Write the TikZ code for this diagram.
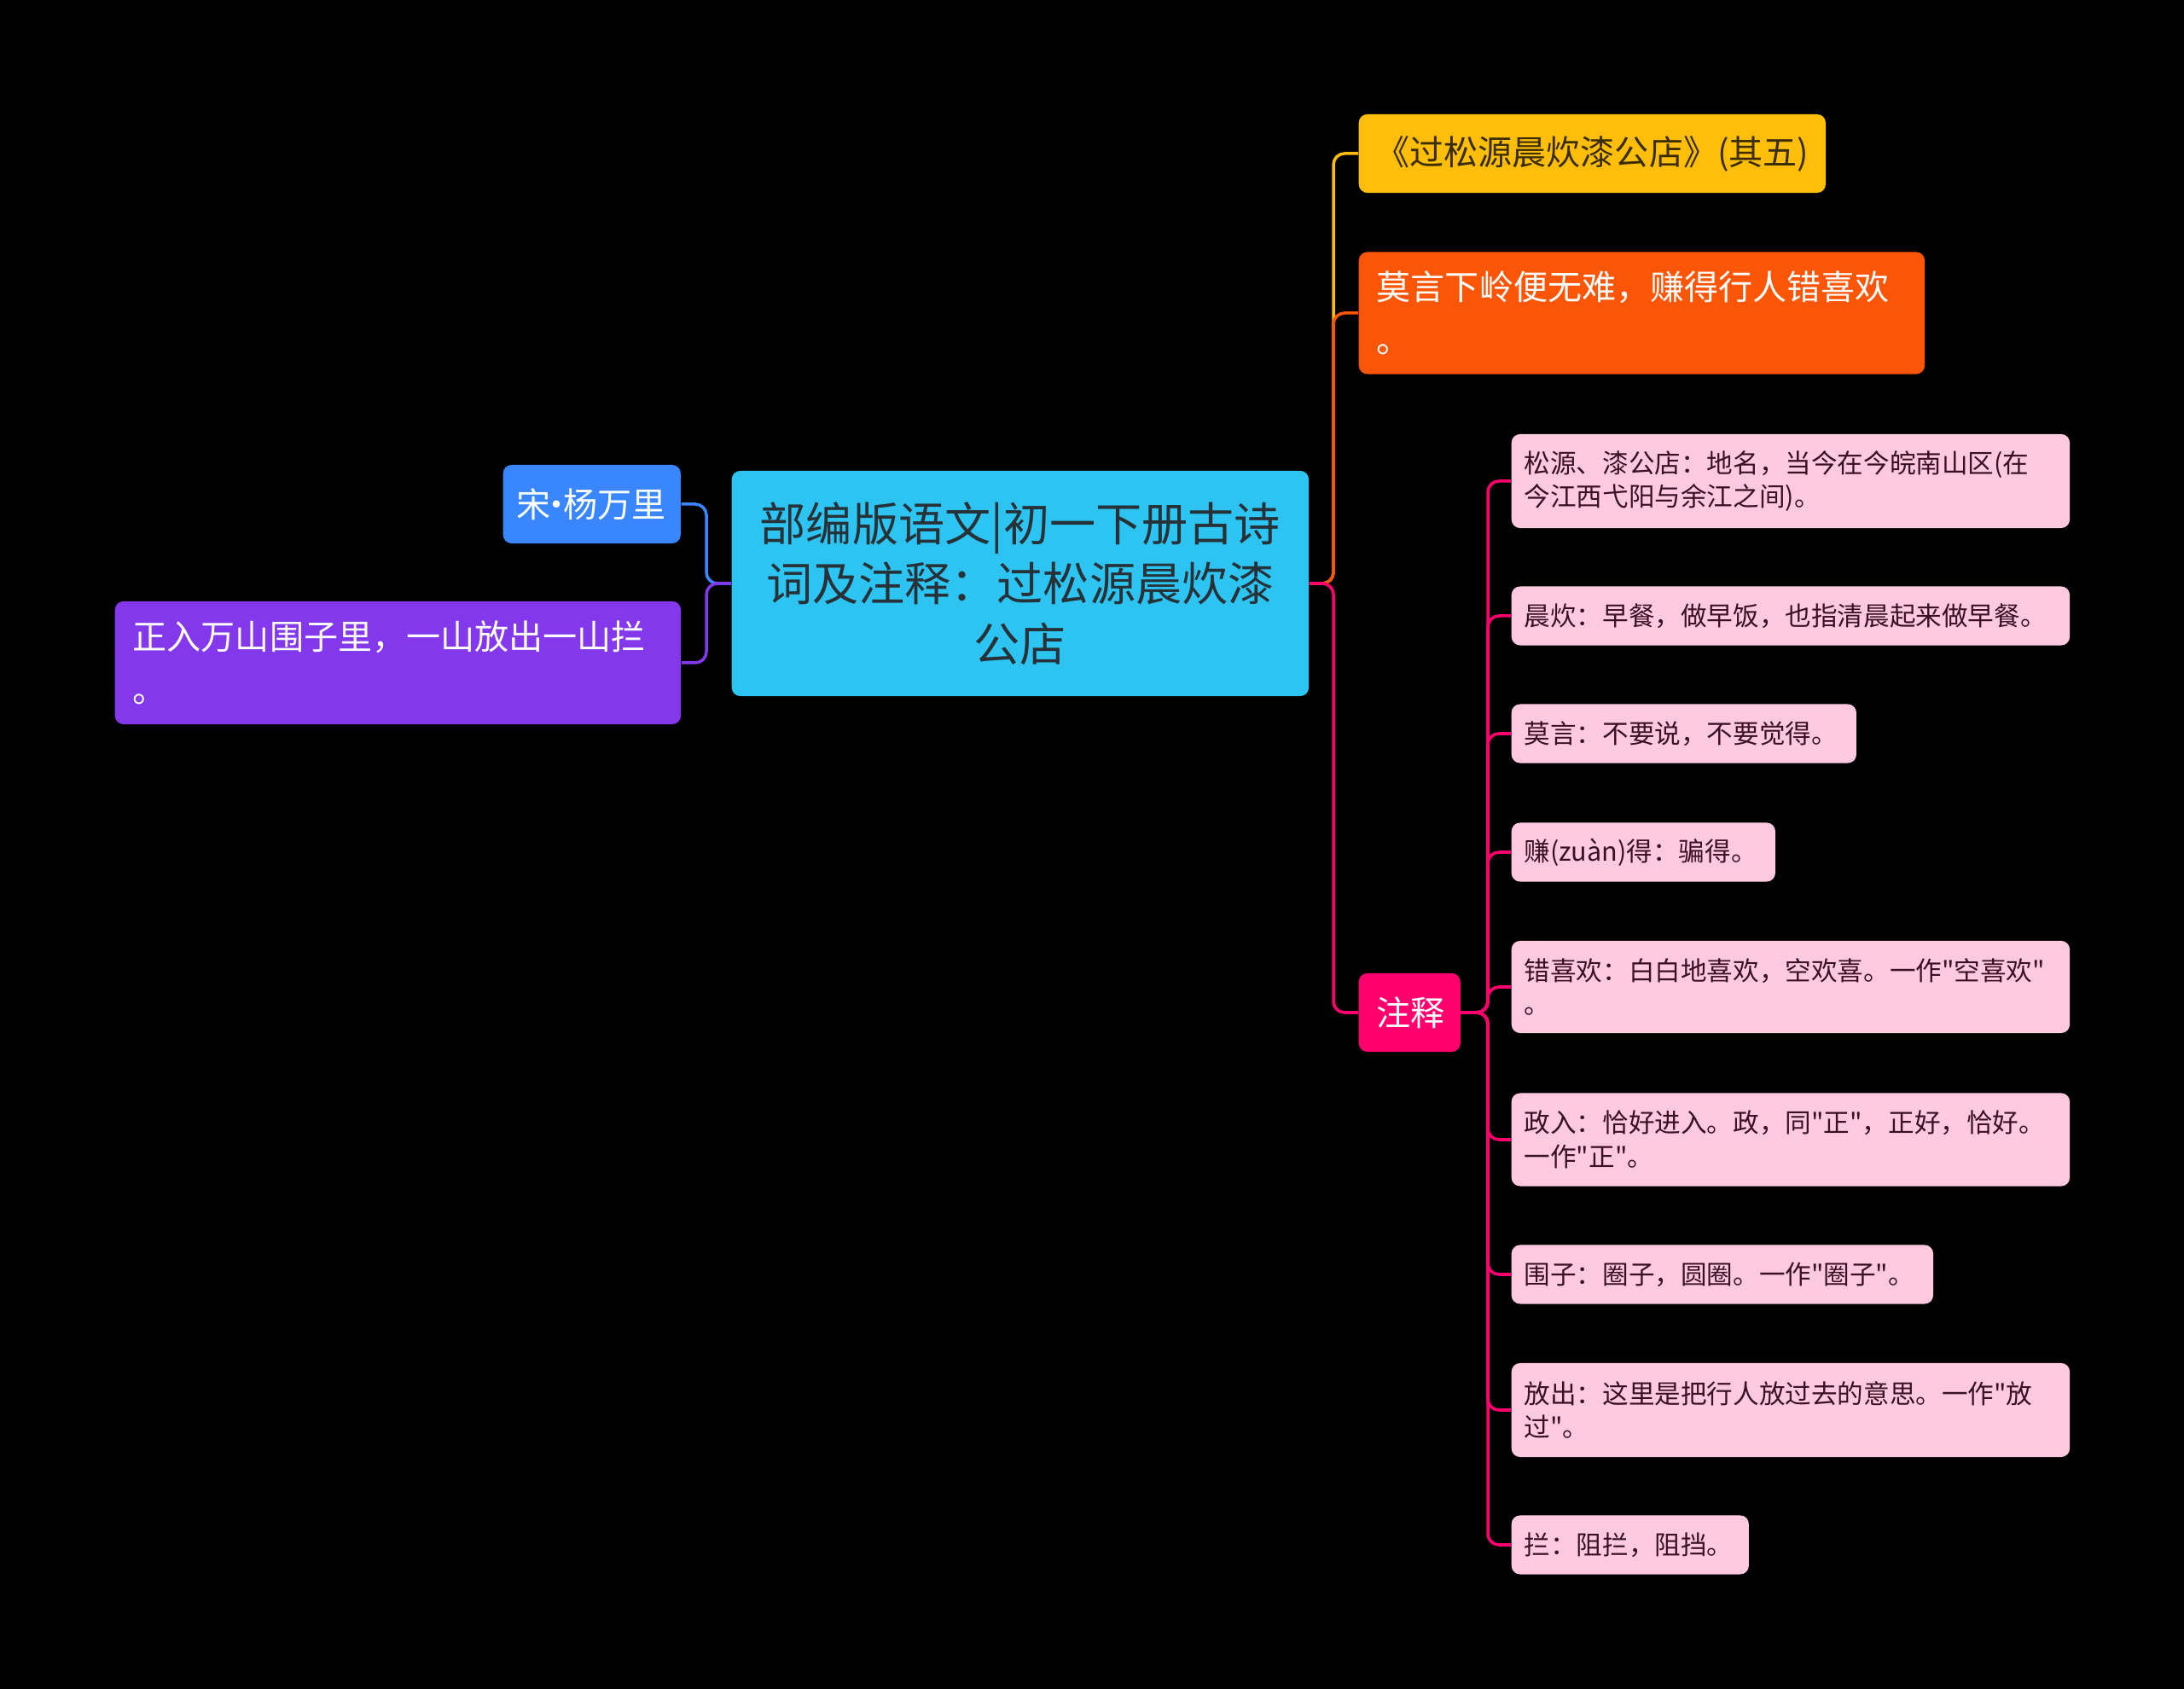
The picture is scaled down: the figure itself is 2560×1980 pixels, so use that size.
\documentclass[tikz,border=0pt]{standalone}
\usepackage{fontspec}
\newfontfamily\cjk{Noto Sans CJK SC}
\definecolor{rootcyan}{HTML}{2EC4F2}
\definecolor{roottext}{HTML}{263238}
\definecolor{authorblue}{HTML}{3A86FF}
\definecolor{versepurple}{HTML}{8338EC}
\definecolor{titleyellow}{HTML}{FFBE0B}
\definecolor{titletext}{HTML}{3A2E00}
\definecolor{verseorange}{HTML}{FB5607}
\definecolor{notemagenta}{HTML}{FF006E}
\definecolor{notepink}{HTML}{FFCADF}
\definecolor{notetext}{HTML}{3A1025}
\begin{document}
\begin{tikzpicture}[x=0.01cm, y=-0.01cm,
    box/.style={rounded corners=0.1cm, anchor=west, inner ysep=0pt},
    lvlone/.style={box, inner xsep=0.21cm, align=left, minimum height=0.92cm,
        font=\cjk\fontsize{11.4}{17.6}\selectfont},
    note/.style={box, fill=notepink, text=notetext, inner xsep=0.15cm, align=left,
        font=\cjk\fontsize{8.7}{11.3}\selectfont},
    link/.style={line width=1pt, rounded corners=0.13cm}]
    \fill[black] (0,0) rectangle (2560,1980);
    \useasboundingbox (0,0) rectangle (2560,1980);

    % centre
    \node[box, fill=rootcyan, text=roottext, inner xsep=0.2cm, align=center,
        text width=6.36cm, minimum height=2.64cm,
        font=\cjk\fontsize{15.4}{20}\selectfont] (root) at (857,684)
        {部编版语文|初一下册古诗\\词及注释：过松源晨炊漆\\公店};

    % left side
    \node[lvlone, fill=authorblue, text=white, inner xsep=0.16cm, text width=1.76cm] (author) at (589,591)
        {宋\kern-0.32em·\kern-0.32em杨万里};
    \node[lvlone, fill=versepurple, text=white, text width=6.21cm, minimum height=1.44cm] (poemline) at (134,777)
        {正入万山围子里，一山放出一山拦\\。};

    % right side
    \node[lvlone, fill=titleyellow, text=titletext, inner xsep=0.05cm, minimum width=5.47cm] (title) at (1592,180)
        {《过松源晨炊漆公店》(其五)};
    \node[lvlone, fill=verseorange, text=white, text width=6.21cm, minimum height=1.43cm] (verse) at (1592,367)
        {莫言下岭便无难，赚得行人错喜欢\\。};
    \node[lvlone, fill=notemagenta, text=white, text width=0.77cm] (notes) at (1592,1187) {注释};

    % notes
    \node[note, text width=6.24cm, minimum height=1.10cm] (n1) at (1771,564)
        {松源、漆公店：地名，当今在今皖南山区(在\\今江西弋阳与余江之间)。};
    \node[note, text width=6.24cm, minimum height=0.69cm] (n2) at (1771,722)
        {晨炊：早餐，做早饭，也指清晨起来做早餐。};
    \node[note, text width=3.74cm, minimum height=0.69cm] (n3) at (1771,860)
        {莫言：不要说，不要觉得。};
    \node[note, text width=2.79cm, minimum height=0.69cm] (n4) at (1771,999)
        {赚(zuàn)得：骗得。};
    \node[note, text width=6.24cm, minimum height=1.08cm] (n5) at (1771,1157)
        {错喜欢：白白地喜欢，空欢喜。一作"空喜欢"\\。};
    \node[note, text width=6.24cm, minimum height=1.09cm] (n6) at (1771,1336)
        {政入：恰好进入。政，同"正"，正好，恰好。\\一作"正"。};
    \node[note, text width=4.64cm, minimum height=0.69cm] (n7) at (1771,1494)
        {围子：圈子，圆圈。一作"圈子"。};
    \node[note, text width=6.24cm, minimum height=1.10cm] (n8) at (1771,1653)
        {放出：这里是把行人放过去的意思。一作"放\\过"。};
    \node[note, text width=2.48cm, minimum height=0.69cm] (n9) at (1771,1811)
        {拦：阻拦，阻挡。};

    % connectors
    \coordinate (lj) at (828,684);
    \coordinate (rj) at (1563,684);
    \coordinate (nj) at (1744,1187);
    \draw[link, authorblue] (root.west) -- (lj) |- (author.east);
    \draw[link, versepurple] (root.west) -- (lj) |- (poemline.east);
    \draw[link, titleyellow] (root.east) -- (rj) |- (title.west);
    \draw[link, verseorange] (root.east) -- (rj) |- (verse.west);
    \draw[link, notemagenta] (root.east) -- (rj) |- (notes.west);
    \foreach \i in {1,...,9}
        \draw[link, notemagenta] (notes.east) -- (nj) |- (n\i.west);
\end{tikzpicture}
\end{document}
